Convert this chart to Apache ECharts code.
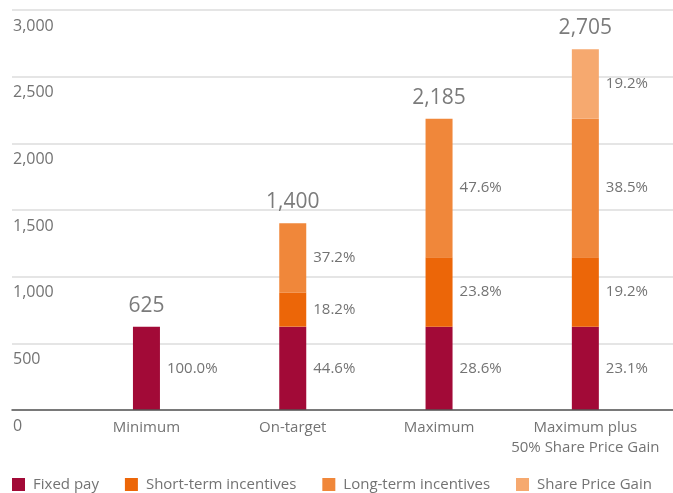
<!DOCTYPE html>
<html>
<head>
<meta charset="utf-8">
<script src="https://cdn.jsdelivr.net/npm/echarts@6/dist/echarts.min.js"></script>
<style>
  html, body { margin: 0; padding: 0; background: #fff; }
  #chart { width: 673px; height: 493px; }
</style>
</head>
<body>
<div id="chart"></div>
<script>
// Remuneration scenarios (£000)
const categories = ['Minimum', 'On-target', 'Maximum', 'Maximum plus\n50% Share Price Gain'];
const seriesNames = ['Fixed pay', 'Short-term incentives', 'Long-term incentives', 'Share Price Gain'];
const fixedPay = [625, 625, 625, 625];
const shortTerm = [null, 255, 520, 520];
const longTerm = [null, 520, 1040, 1040];
const sharePrice = [null, null, null, 520];
// Stated shares of each scenario total
const fixedPct = ['100.0%', '44.6%', '28.6%', '23.1%'];
const shortPct = [null, '18.2%', '23.8%', '19.2%'];
const longPct = [null, '37.2%', '47.6%', '38.5%'];
const sharePct = [null, null, null, '19.2%'];
const yTicks = { min: 0, max: 3000, interval: 500 };

const colors = ['#A20A37', '#EC6608', '#F0873A', '#F6A96F'];
const FONT = '"Open Sans", "Noto Sans", sans-serif';
const TEXT = '#737373';

const totals = categories.map((_, i) =>
  [fixedPay, shortTerm, longTerm, sharePrice].reduce((s, arr) => s + (arr[i] || 0), 0));

function segment(name, data, pct, color) {
  return {
    name: name,
    type: 'bar',
    stack: 'pay',
    xAxisIndex: 1,
    yAxisIndex: 1,
    barWidth: 27,
    data: data,
    itemStyle: { color: color },
    label: {
      show: true,
      position: 'right',
      distance: 7,
      fontFamily: FONT,
      fontSize: 15,
      color: TEXT,
      formatter: p => pct[p.dataIndex] || ''
    }
  };
}

const chart = echarts.init(document.getElementById('chart'), null, { renderer: 'canvas' });
chart.setOption({
  animation: false,
  textStyle: { fontFamily: FONT },
  grid: [
    { left: 12, right: 0, top: 10, bottom: 83 },
    { left: 73.3, right: 14.5, top: 10, bottom: 83 }
  ],
  legend: {
    data: seriesNames,
    left: 12,
    top: 477,
    padding: 0,
    icon: 'rect',
    itemWidth: 13,
    itemHeight: 13,
    itemGap: 26,
    textStyle: { fontFamily: FONT, fontSize: 15, color: TEXT, padding: [0, 0, 0, 3] }
  },
  xAxis: [
    {
      gridIndex: 0, type: 'value', min: 0, max: 1, z: 5,
      axisLine: { show: true, lineStyle: { color: '#555', width: 1.5 } },
      axisTick: { show: false }, axisLabel: { show: false }, splitLine: { show: false }
    },
    {
      gridIndex: 1, type: 'category', data: categories,
      axisLine: { show: false }, axisTick: { show: false },
      axisLabel: { interval: 0, fontFamily: FONT, fontSize: 15, color: TEXT, margin: 8, lineHeight: 20 }
    }
  ],
  yAxis: [
    {
      gridIndex: 0, type: 'value', min: yTicks.min, max: yTicks.max, interval: yTicks.interval,
      axisLine: { show: false }, axisTick: { show: false },
      splitLine: { lineStyle: { color: '#DCDCDC', width: 1.5 } },
      axisLabel: {
        inside: true, margin: 1, align: 'left', verticalAlign: 'top',
        padding: [8, 0, 0, 0],
        fontFamily: FONT, fontSize: 16, color: TEXT,
        formatter: v => v.toLocaleString('en-GB')
      }
    },
    {
      gridIndex: 1, type: 'value', min: yTicks.min, max: yTicks.max, interval: yTicks.interval,
      show: false
    }
  ],
  series: [
    segment(seriesNames[0], fixedPay, fixedPct, colors[0]),
    segment(seriesNames[1], shortTerm, shortPct, colors[1]),
    segment(seriesNames[2], longTerm, longPct, colors[2]),
    segment(seriesNames[3], sharePrice, sharePct, colors[3]),
    {
      name: 'Total',
      type: 'scatter',
      xAxisIndex: 1,
      yAxisIndex: 1,
      symbolSize: 1,
      itemStyle: { color: 'rgba(0,0,0,0)' },
      data: totals,
      z: 10,
      label: {
        show: true,
        position: 'top',
        distance: 10,
        fontFamily: FONT,
        fontSize: 21,
        color: '#5a5a5a',
        formatter: p => p.value.toLocaleString('en-GB')
      }
    }
  ]
});
</script>
</body>
</html>
